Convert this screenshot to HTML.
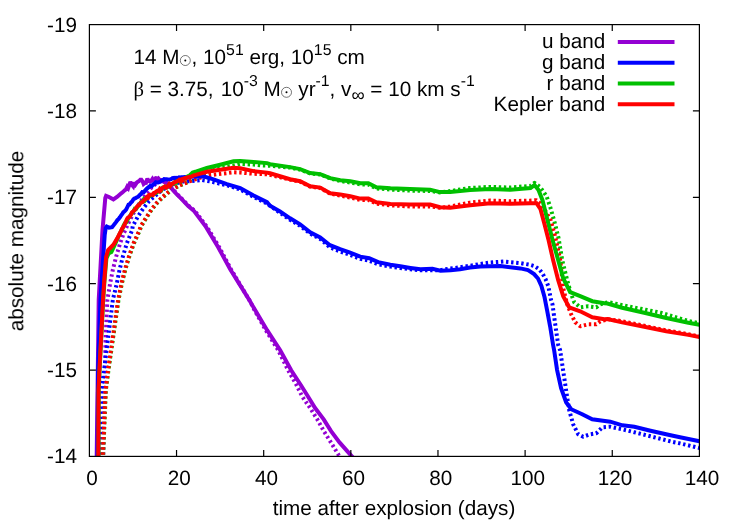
<!DOCTYPE html>
<html><head><meta charset="utf-8"><title>plot</title>
<style>
html,body{margin:0;padding:0;background:#fff;overflow:hidden;}
svg{display:block;}
text{font-family:"Liberation Sans",sans-serif;font-size:20.7px;fill:#000;text-rendering:geometricPrecision;}
.sup{font-size:15.8px;}
.sym{font-family:"Liberation Serif",serif;}
</style></head><body>
<svg width="747" height="523" viewBox="0 0 747 523">
<rect width="747" height="523" fill="#fff"/>
<defs><clipPath id="c"><rect x="89.4" y="24.6" width="610.0" height="431.79999999999995"/></clipPath></defs>
<g clip-path="url(#c)">
<path d="M103.0,470.0 L104.5,390.0 L105.5,340.0 L107.4,300.0 L110.1,283.5 L112.8,270.0 L116.1,256.8 L120.1,243.4 L123.5,234.0 L128.0,224.0 L133.0,214.0 L139.0,204.0 L146.0,194.0 L152.0,187.0 L158.0,182.0 L163.0,180.6 L167.0,183.7 L171.4,187.8 L176.8,193.8 L182.2,199.1 L188.6,205.8 L195.0,211.1 L207.1,227.1 L219.2,247.2 L231.0,269.3 L240.6,285.4 L249.3,300.0 L254.5,310.1 L265.8,330.2 L278.2,350.2 L288.2,370.3 L296.5,385.0 L302.2,396.5 L310.1,408.0 L317.3,419.4 L323.7,430.9 L330.9,442.4 L338.8,455.3 L343.0,462.0" stroke="#9400d3" stroke-width="4" fill="none" stroke-dasharray="2.4 2.7" stroke-linejoin="round"/>
<path d="M99.4,470.0 L99.8,440.0 L101.4,390.0 L104.1,370.0 L112.8,300.0 L116.8,283.5 L119.5,270.0 L122.8,256.8 L126.8,243.4 L132.2,230.0 L132.7,226.3 L138.0,216.2 L143.4,208.2 L148.7,201.5 L154.1,196.8 L162.0,190.0 L172.0,184.5 L183.0,181.6 L191.6,181.0 L202.3,180.1 L210.3,181.4 L218.4,183.4 L226.9,185.3 L240.2,189.5 L253.6,196.9 L267.0,203.6 L280.0,212.8 L290.1,219.8 L300.1,225.8 L310.2,233.6 L320.2,238.9 L330.0,247.4 L340.1,251.5 L350.1,254.9 L360.2,258.9 L369.2,260.7 L378.2,264.3 L390.3,266.6 L400.3,268.0 L410.4,269.3 L420.4,270.2 L430.0,270.2 L440.0,270.2 L450.1,268.6 L460.0,267.3 L470.2,265.7 L480.0,264.0 L490.2,262.5 L504.3,261.5 L520.4,263.1 L530.0,264.8 L534.4,266.1 L539.1,269.1 L542.4,273.2 L545.5,279.0 L548.3,286.2 L551.1,300.2 L552.5,304.3 L554.1,316.3 L556.1,330.4 L558.2,345.0 L560.1,350.0 L563.1,370.1 L566.1,390.2 L569.2,410.2 L573.2,424.3 L578.2,434.3 L583.2,436.7 L590.2,434.3 L596.3,433.3 L602.3,427.3 L610.3,426.7 L622.4,429.3 L634.4,432.3 L650.5,436.3 L670.6,441.4 L680.0,443.4 L699.5,448.0" stroke="#0000ff" stroke-width="4" fill="none" stroke-dasharray="2.4 2.7" stroke-linejoin="round"/>
<path d="M102.5,470.0 L103.1,456.0 L105.9,390.0 L108.5,370.0 L118.5,300.0 L121.9,283.5 L125.2,270.0 L129.2,256.8 L133.9,243.4 L139.9,230.0 L141.1,226.3 L146.5,217.6 L151.8,209.5 L157.2,202.8 L162.5,197.5 L167.9,192.8 L173.2,188.8 L179.9,185.4 L186.4,182.6 L193.0,179.0 L200.0,175.5 L207.0,172.5 L214.0,170.0 L220.2,168.3 L233.5,165.5 L240.2,164.0 L253.6,164.6 L260.3,165.4 L270.0,165.7 L290.1,167.6 L300.1,169.6 L310.2,173.4 L320.2,174.4 L330.2,178.4 L340.3,181.0 L350.3,182.6 L360.4,184.4 L368.4,184.6 L376.4,188.4 L390.5,189.6 L410.0,190.6 L430.1,191.0 L440.1,192.4 L450.2,191.1 L470.2,187.9 L490.3,186.9 L510.4,187.5 L530.5,185.9 L534.5,182.8 L540.0,187.0 L546.5,196.0 L550.6,208.2 L554.6,222.2 L558.6,238.3 L562.2,260.1 L567.2,280.2 L571.2,294.2 L574.2,302.2 L580.2,307.3 L588.3,306.3 L596.3,307.3 L600.3,304.3 L608.4,302.2 L620.4,304.7 L640.5,308.7 L660.6,312.7 L688.4,321.0 L699.5,323.2" stroke="#00c000" stroke-width="4" fill="none" stroke-dasharray="2.4 2.7" stroke-linejoin="round"/>
<path d="M102.2,470.0 L102.8,456.0 L105.6,390.0 L108.1,370.0 L118.1,300.0 L121.5,283.5 L124.8,270.0 L128.8,256.8 L133.5,243.4 L139.5,230.0 L140.7,226.3 L146.1,217.6 L151.4,209.5 L156.8,202.8 L162.1,197.5 L167.5,192.8 L172.8,188.8 L179.5,185.4 L186.2,182.8 L192.9,180.1 L202.3,177.1 L210.3,175.1 L218.4,174.1 L226.4,173.2 L233.5,172.3 L240.2,172.5 L253.6,173.8 L267.0,174.2 L290.1,179.6 L300.1,181.6 L310.2,186.6 L320.2,188.0 L330.2,193.6 L340.3,195.6 L350.3,197.6 L360.4,200.0 L368.4,200.0 L376.4,203.6 L390.5,205.4 L410.0,206.4 L430.1,206.4 L440.1,207.8 L450.2,206.5 L470.2,202.6 L490.3,200.6 L510.4,201.2 L530.5,200.6 L536.5,200.2 L541.0,204.0 L546.0,212.0 L550.6,220.2 L554.6,234.3 L558.6,252.4 L560.2,260.1 L563.2,288.2 L567.2,304.3 L571.2,314.3 L575.2,322.3 L580.2,326.3 L588.3,324.3 L596.3,324.3 L600.3,321.3 L608.4,319.3 L620.4,320.9 L644.2,325.8 L666.3,330.4 L688.4,334.2 L699.5,336.4" stroke="#ff0000" stroke-width="4" fill="none" stroke-dasharray="2.4 2.7" stroke-linejoin="round"/>
<path d="M96.5,470.0 L98.7,300.0 L102.5,230.0 L105.3,198.0 L106.1,195.8 L109.0,197.0 L113.4,199.5 L117.0,197.0 L121.5,193.1 L122.0,192.7 L123.4,191.6 L124.6,190.4 L125.8,189.6 L127.2,186.8 L128.2,188.1 L129.4,184.6 L130.4,182.0 L131.8,184.6 L133.2,186.3 L134.3,182.5 L135.5,184.5 L136.7,182.6 L137.9,181.6 L139.0,181.1 L140.3,179.8 L141.4,179.8 L142.6,181.4 L143.6,184.0 L144.9,182.9 L146.0,182.8 L147.4,178.7 L148.6,180.9 L150.0,181.7 L151.2,180.9 L152.5,178.9 L153.8,180.9 L155.2,179.2 L156.5,177.0 L157.6,180.9 L158.8,178.9 L160.1,180.3 L161.5,180.1 L162.7,181.1 L164.1,181.9 L165.3,182.6 L166.3,182.7 L167.6,184.8 L168.9,185.6 L170.0,186.8 L171.5,188.4 L176.4,193.8 L181.7,199.1 L188.0,205.8 L194.1,211.1 L206.1,227.1 L218.2,247.2 L230.2,269.3 L240.2,285.4 L249.3,300.0 L255.1,310.1 L267.1,330.2 L280.2,350.2 L291.2,370.3 L300.8,385.0 L308.0,396.5 L315.1,408.0 L323.7,419.4 L330.9,430.9 L339.5,442.4 L351.0,455.3 L356.0,461.0" stroke="#9400d3" stroke-width="4" fill="none" stroke-linejoin="miter" stroke-miterlimit="2.2" stroke-linecap="butt"/>
<path d="M97.5,470.0 L98.1,370.0 L100.4,300.0 L104.7,235.0 L105.7,228.0 L106.7,226.6 L109.0,227.6 L112.1,227.2 L116.0,222.1 L117.5,220.0 L118.5,219.2 L119.9,217.3 L121.0,215.7 L122.3,213.9 L123.4,212.2 L124.6,211.2 L126.1,209.7 L127.4,207.0 L128.5,204.7 L129.5,204.5 L130.7,202.9 L132.1,201.5 L133.4,199.3 L134.4,198.6 L135.5,198.1 L137.0,197.3 L138.1,196.8 L139.5,195.3 L140.9,194.1 L142.3,192.1 L143.8,192.2 L144.9,190.8 L146.3,189.1 L147.5,188.1 L149.0,186.9 L150.4,185.6 L151.9,186.0 L153.1,184.5 L154.5,184.0 L155.8,182.2 L156.9,182.5 L158.0,182.5 L159.2,182.1 L160.3,181.8 L161.7,180.4 L162.9,180.3 L164.2,179.1 L165.3,179.2 L166.8,179.3 L167.8,179.6 L169.2,179.7 L170.3,179.3 L171.3,179.0 L172.5,178.1 L173.9,177.8 L175.2,179.0 L176.3,177.8 L177.7,178.0 L179.1,177.4 L180.3,177.5 L181.6,177.3 L183.1,177.2 L184.4,177.1 L185.6,177.4 L186.6,177.0 L188.0,177.0 L189.0,177.0 L193.4,176.5 L204.1,176.5 L213.5,179.4 L226.9,184.1 L240.2,188.1 L253.6,195.5 L267.0,202.2 L270.0,205.8 L280.0,211.4 L290.1,218.3 L300.1,224.3 L310.2,232.4 L320.2,237.4 L330.0,245.2 L340.1,249.2 L350.1,252.6 L360.2,256.6 L369.2,258.2 L378.2,262.2 L390.3,264.7 L400.3,266.3 L410.4,267.9 L420.4,269.3 L432.4,268.7 L440.5,270.8 L450.5,270.2 L460.1,269.3 L470.0,267.6 L480.2,266.5 L500.3,266.1 L520.4,268.4 L528.0,270.1 L534.1,274.1 L538.0,278.5 L541.4,286.0 L544.5,297.0 L547.1,310.3 L550.1,326.3 L553.1,345.0 L554.1,350.0 L557.1,370.1 L561.1,388.2 L566.1,402.2 L571.2,409.2 L582.2,414.3 L592.2,419.3 L610.3,421.7 L622.4,425.3 L634.4,426.7 L650.5,430.7 L670.6,435.3 L680.0,437.3 L699.5,441.2" stroke="#0000ff" stroke-width="4" fill="none" stroke-linejoin="miter" stroke-miterlimit="2.2" stroke-linecap="butt"/>
<path d="M98.5,470.0 L98.7,390.0 L99.6,370.0 L103.2,300.0 L104.3,283.0 L106.4,258.5 L108.6,253.5 L111.4,252.1 L114.0,246.5 L118.1,237.2 L120.0,233.3 L121.3,230.7 L122.6,228.4 L123.6,225.6 L125.0,223.1 L126.1,222.5 L127.4,220.1 L128.6,217.9 L129.7,216.4 L131.1,214.1 L132.5,212.5 L133.5,211.2 L134.8,208.8 L135.8,209.0 L137.1,207.3 L138.5,205.7 L140.0,203.4 L141.4,202.0 L142.8,201.8 L143.9,199.4 L145.0,200.4 L146.2,198.8 L147.4,197.7 L148.6,196.4 L149.9,196.0 L151.3,195.4 L152.8,194.9 L154.3,193.6 L155.3,193.3 L156.8,192.6 L158.1,191.4 L159.2,191.1 L160.5,189.2 L161.5,190.0 L163.0,187.5 L164.4,187.5 L165.5,186.7 L166.9,187.3 L167.9,186.3 L168.9,186.1 L170.1,185.9 L171.6,184.4 L173.1,183.3 L174.1,183.5 L175.1,182.2 L176.4,182.6 L177.4,181.0 L178.9,181.0 L180.3,181.6 L181.5,180.1 L182.8,179.7 L184.1,178.8 L185.4,178.5 L186.7,177.2 L188.0,176.2 L189.2,176.0 L190.4,174.6 L191.4,173.8 L192.7,172.6 L194.0,172.1 L195.1,171.8 L206.8,168.0 L220.2,164.7 L233.5,161.3 L240.2,160.9 L253.6,162.0 L267.0,163.1 L270.0,164.2 L290.1,167.1 L300.1,169.1 L310.2,173.1 L320.2,174.1 L330.2,178.2 L340.3,180.2 L350.3,181.2 L360.4,183.2 L368.4,183.2 L376.4,187.2 L390.5,188.2 L410.0,189.1 L430.1,189.7 L440.1,192.1 L450.2,192.1 L470.2,190.1 L490.3,189.1 L510.4,189.7 L530.5,188.1 L534.5,185.1 L538.5,190.1 L542.5,200.2 L546.5,216.2 L552.6,240.3 L558.2,260.1 L563.2,278.2 L570.2,292.2 L580.2,296.2 L592.3,301.2 L604.3,303.3 L607.4,303.5 L622.1,307.7 L644.2,312.8 L666.3,318.0 L688.4,322.7 L699.5,324.8" stroke="#00c000" stroke-width="4" fill="none" stroke-linejoin="miter" stroke-miterlimit="2.2" stroke-linecap="butt"/>
<path d="M98.3,470.0 L98.5,390.0 L99.4,370.0 L103.0,300.0 L104.1,283.0 L106.1,257.0 L108.1,250.0 L113.4,244.7 L118.1,236.7 L120.0,233.0 L121.1,230.8 L122.1,228.5 L123.3,227.0 L124.7,224.3 L125.8,221.8 L127.0,218.9 L128.0,217.5 L129.5,216.8 L130.9,214.8 L132.0,212.2 L133.3,211.3 L134.7,210.0 L135.8,208.3 L137.1,206.6 L138.2,205.3 L139.2,205.2 L140.7,202.8 L141.8,202.5 L143.1,201.4 L144.5,199.6 L145.7,198.9 L147.0,197.0 L148.1,197.6 L149.1,195.1 L150.5,194.8 L151.7,194.5 L152.9,195.0 L154.0,193.0 L155.1,192.9 L156.2,191.6 L157.6,190.7 L158.9,191.3 L159.9,189.0 L161.0,190.0 L162.4,188.1 L163.5,187.4 L164.7,186.5 L166.1,187.7 L167.6,186.6 L169.1,184.3 L170.2,185.8 L171.6,183.8 L173.1,183.6 L174.5,182.1 L175.6,182.0 L176.6,181.5 L178.1,180.8 L179.1,179.9 L180.2,181.0 L181.4,179.6 L182.4,180.4 L183.6,178.7 L184.7,178.2 L185.8,178.6 L186.8,177.5 L188.1,177.3 L189.6,176.7 L190.8,176.7 L192.0,176.3 L193.3,175.6 L194.5,175.2 L195.7,174.9 L206.8,171.8 L220.2,169.8 L233.5,167.8 L240.2,168.2 L253.6,171.1 L267.0,172.6 L270.0,173.3 L290.1,179.2 L300.1,181.2 L310.2,186.2 L320.2,187.6 L330.2,193.2 L340.3,194.6 L350.3,196.2 L360.4,198.6 L368.4,198.6 L376.4,202.2 L390.5,203.9 L410.0,204.6 L430.1,204.6 L440.1,207.2 L450.2,207.8 L470.2,205.2 L490.3,203.2 L510.4,203.8 L530.5,203.2 L536.5,203.2 L540.5,209.2 L544.5,224.3 L548.6,240.3 L553.1,260.1 L558.2,280.2 L563.2,296.2 L569.2,307.3 L580.2,311.3 L592.3,317.3 L604.3,319.3 L607.4,319.0 L622.1,322.4 L644.2,326.8 L666.3,331.2 L688.4,334.9 L699.5,337.0" stroke="#ff0000" stroke-width="4" fill="none" stroke-linejoin="miter" stroke-miterlimit="2.2" stroke-linecap="butt"/>
</g>
<g stroke="#000" stroke-width="1.2" fill="none">
<path d="M176.54,456.4 v-6.5 M176.54,24.6 v6.5"/><path d="M263.69,456.4 v-6.5 M263.69,24.6 v6.5"/><path d="M350.83,456.4 v-6.5 M350.83,24.6 v6.5"/><path d="M437.97,456.4 v-6.5 M437.97,24.6 v6.5"/><path d="M525.11,456.4 v-6.5 M525.11,24.6 v6.5"/><path d="M612.26,456.4 v-6.5 M612.26,24.6 v6.5"/><path d="M89.4,110.96 h6.5 M699.4,110.96 h-6.5"/><path d="M89.4,197.32 h6.5 M699.4,197.32 h-6.5"/><path d="M89.4,283.68 h6.5 M699.4,283.68 h-6.5"/><path d="M89.4,370.04 h6.5 M699.4,370.04 h-6.5"/>
<rect x="89.4" y="24.6" width="610.0" height="431.79999999999995"/>
</g>
<g opacity="0.999">
<text x="92.1" y="484.5" text-anchor="middle">0</text><text x="179.2" y="484.5" text-anchor="middle">20</text><text x="266.4" y="484.5" text-anchor="middle">40</text><text x="353.5" y="484.5" text-anchor="middle">60</text><text x="440.7" y="484.5" text-anchor="middle">80</text><text x="527.8" y="484.5" text-anchor="middle">100</text><text x="615.0" y="484.5" text-anchor="middle">120</text><text x="702.1" y="484.5" text-anchor="middle">140</text>
<text x="77" y="31.6" text-anchor="end">-19</text><text x="77" y="118.0" text-anchor="end">-18</text><text x="77" y="204.3" text-anchor="end">-17</text><text x="77" y="290.7" text-anchor="end">-16</text><text x="77" y="377.0" text-anchor="end">-15</text><text x="77" y="463.4" text-anchor="end">-14</text>
<text x="394" y="515" text-anchor="middle">time after explosion (days)</text>
<text transform="translate(23.2,241) rotate(-90)" text-anchor="middle">absolute magnitude</text>
<text x="133.5" y="64">14 M</text><g transform="translate(185.3,60.5)"><circle r="5" fill="none" stroke="#000" stroke-width="0.55"/><circle r="1.0" fill="#000"/></g><text x="191.6" y="64">, 10<tspan class="sup" dy="-9.4">51</tspan><tspan dy="9.4"> erg, 10</tspan><tspan class="sup" dy="-9.4">15</tspan><tspan dy="9.4"> cm</tspan></text>
<text x="133.5" y="95.5"><tspan class="sym">β</tspan> = 3.75,<tspan dx="1.4"> 10</tspan><tspan class="sup" dy="-9.4">-3</tspan><tspan dy="9.4"> M</tspan></text><g transform="translate(286.5,92.3)"><circle r="5" fill="none" stroke="#000" stroke-width="0.55"/><circle r="1.0" fill="#000"/></g><text x="298.3" y="95.5">yr<tspan class="sup" dy="-9.4">-1</tspan><tspan dy="9.4">, v</tspan><tspan style="font-size:18.5px" dy="5.5">∞</tspan><tspan dy="-5.5"> = 10 km s</tspan><tspan class="sup" dy="-9.4">-1</tspan></text>
<text x="605.2" y="48.3" text-anchor="end">u band</text><path d="M617.8,41.9 H674.5" stroke="#9400d3" stroke-width="4"/><text x="605.2" y="69.1" text-anchor="end">g band</text><path d="M617.8,62.7 H674.5" stroke="#0000ff" stroke-width="4"/><text x="605.2" y="89.9" text-anchor="end">r band</text><path d="M617.8,83.5 H674.5" stroke="#00c000" stroke-width="4"/><text x="605.2" y="110.7" text-anchor="end">Kepler band</text><path d="M617.8,104.3 H674.5" stroke="#ff0000" stroke-width="4"/>
</g>
</svg>
</body></html>
